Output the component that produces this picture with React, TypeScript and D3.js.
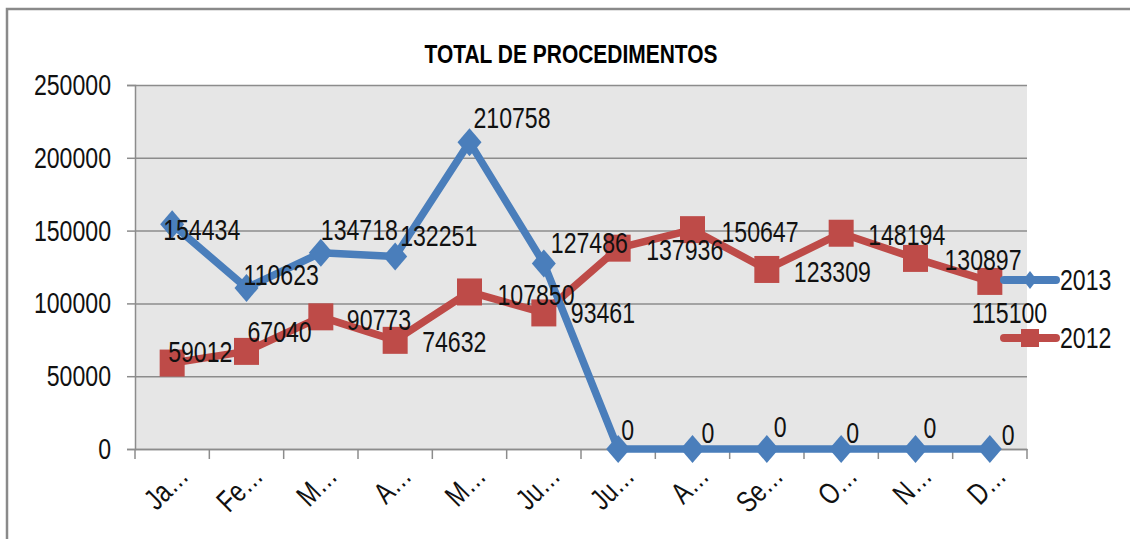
import React, { useRef, useEffect } from "react";
import * as d3 from "d3";

// chart data
const months = ["Janeiro", "Fevereiro", "Março", "Abril", "Maio", "Junho", "Julho", "Agosto", "Setembro", "Outubro", "Novembro", "Dezembro"];
const monthTicks = ["Ja…", "Fe…", "M…", "A…", "M…", "Ju…", "Ju…", "A…", "Se…", "O…", "N…", "D…"];
const values2013 = [154434, 110623, 134718, 132251, 210758, 127486, 0, 0, 0, 0, 0, 0];
const values2012 = [59012, 67040, 90773, 74632, 107850, 93461, 137936, 150647, 123309, 148194, 130897, 115100];
const yTicks = [0, 50000, 100000, 150000, 200000, 250000];

// where each data label sits relative to its point (dx to text start, dy to text middle)
const shift2013 = [[-9, 6], [-3, -13], [0, -23], [5, -21], [4, -24], [7, -20], [3, -19], [9, -16], [7, -22], [5, -16], [8, -21], [12, -14]];
const shift2012 = [[-4, -11], [1, -19], [26, 3], [27, 2], [28, 3], [27, 0], [28, 2], [29, 2], [27, 2], [27, 2], [29, 2], [-18, 32]];

const FONT = "'Liberation Sans', Arial, sans-serif";
const SQUEEZE = 0.77; // the original text is a narrow face
const BLUE = "#4a7ebb";
const RED = "#be4b48";

const App = () => {
  const svgRef = useRef(null);

  useEffect(() => {
    const width = 1130;
    const height = 539;
    const plot = { left: 135, right: 1027, top: 85, bottom: 449 };

    const svg = d3.select(svgRef.current);
    svg.selectAll("*").remove();
    svg.attr("width", width).attr("height", height).style("font-family", FONT);

    // narrow text helper: a group at (x, y), text squeezed horizontally
    const narrowText = (parent, x, y, str, anchor = "start", rotate = 0) => {
      parent.append("text")
        .attr("transform", `translate(${x},${y}) rotate(${rotate}) scale(${SQUEEZE},1)`)
        .attr("text-anchor", anchor)
        .attr("dominant-baseline", rotate ? "auto" : "central")
        .attr("font-size", 30)
        .attr("fill", "#111")
        .text(str);
    };

    // outer chart frame (only top and left edges show)
    svg.append("path")
      .attr("d", `M7,${height}V9H${width}`)
      .attr("fill", "none").attr("stroke", "#8a8a8a").attr("stroke-width", 2.5);

    const x = d3.scaleBand().domain(months).range([plot.left, plot.right]);
    const y = d3.scaleLinear().domain([0, 250000]).range([plot.bottom, plot.top]);
    const cx = (i) => x(months[i]) + x.bandwidth() / 2;

    svg.append("rect")
      .attr("x", plot.left).attr("y", plot.top)
      .attr("width", plot.right - plot.left).attr("height", plot.bottom - plot.top)
      .attr("fill", "#e6e6e6");

    // gridlines + y axis
    const yAxis = svg.append("g")
      .attr("transform", `translate(${plot.left},0)`)
      .call(d3.axisLeft(y).tickValues(yTicks).tickSize(8).tickFormat(() => ""));
    yAxis.select(".domain").attr("stroke", "#8c8c8c").attr("stroke-width", 1.5);
    yAxis.selectAll(".tick line").attr("stroke", "#8c8c8c").attr("stroke-width", 1.5);
    yAxis.selectAll(".tick")
      .append("line")
      .attr("x1", 0).attr("x2", plot.right - plot.left)
      .attr("stroke", "#8c8c8c").attr("stroke-width", 1.5);
    const yLabels = svg.append("g");
    yTicks.forEach((t) => narrowText(yLabels, plot.left - 24, y(t), d3.format("d")(t), "end"));

    // x axis
    const xAxis = svg.append("g")
      .attr("transform", `translate(0,${plot.bottom})`)
      .call(d3.axisBottom(x).tickSize(0).tickFormat(() => ""));
    xAxis.select(".domain").attr("stroke", "#8c8c8c").attr("stroke-width", 1.5);
    svg.append("g")
      .selectAll("line")
      .data(d3.range(months.length + 1))
      .join("line")
      .attr("x1", (i) => plot.left + i * x.bandwidth())
      .attr("x2", (i) => plot.left + i * x.bandwidth())
      .attr("y1", plot.bottom).attr("y2", plot.bottom + 10)
      .attr("stroke", "#8c8c8c").attr("stroke-width", 1.5);
    const xLabels = svg.append("g");
    monthTicks.forEach((m, i) => narrowText(xLabels, cx(i) + 18, plot.bottom + 29, m, "end", -45));

    // title
    svg.append("text")
      .attr("x", 571).attr("y", 54)
      .attr("text-anchor", "middle").attr("dominant-baseline", "central")
      .attr("font-size", 25).attr("font-weight", "bold").attr("fill", "#000")
      .attr("textLength", 293).attr("lengthAdjust", "spacingAndGlyphs")
      .text("TOTAL DE PROCEDIMENTOS");

    const line = d3.line().x((d, i) => cx(i)).y((d) => y(d));
    const diamond = (w, h) => `M0,${-h}L${w},0L0,${h}L${-w},0Z`;

    const drawSeries = (values, color, marker) => {
      const g = svg.append("g");
      g.append("path")
        .attr("d", line(values))
        .attr("fill", "none").attr("stroke", color)
        .attr("stroke-width", 7.5).attr("stroke-linejoin", "round");
      g.selectAll("path.m")
        .data(values)
        .join("path")
        .attr("class", "m")
        .attr("d", marker)
        .attr("fill", color)
        .attr("transform", (d, i) => `translate(${cx(i)},${y(d)})`);
    };

    drawSeries(values2012, RED, "M-12.5,-13.5h25v27h-25Z");
    drawSeries(values2013, BLUE, diamond(12, 14));

    const labels = (values, shifts) => {
      const g = svg.append("g");
      values.forEach((v, i) => narrowText(g, cx(i) + shifts[i][0], y(v) + shifts[i][1], String(v)));
    };
    labels(values2013, shift2013);
    labels(values2012, shift2012);

    // legend
    const legend = [
      { name: "2013", color: BLUE, marker: diamond(7, 9), y: 280 },
      { name: "2012", color: RED, marker: "M-9,-9h18v18h-18Z", y: 338 },
    ];
    legend.forEach((d) => {
      const lg = svg.append("g").attr("transform", `translate(1030,${d.y})`);
      lg.append("line")
        .attr("x1", -26).attr("x2", 26)
        .attr("stroke", d.color).attr("stroke-width", 8).attr("stroke-linecap", "round");
      lg.append("path").attr("d", d.marker).attr("fill", d.color);
      narrowText(lg, 30, 0, d.name);
    });
  }, []);

  return <svg ref={svgRef} style={{ position: "absolute", left: 0, top: 0 }}></svg>;
};

export default App;
